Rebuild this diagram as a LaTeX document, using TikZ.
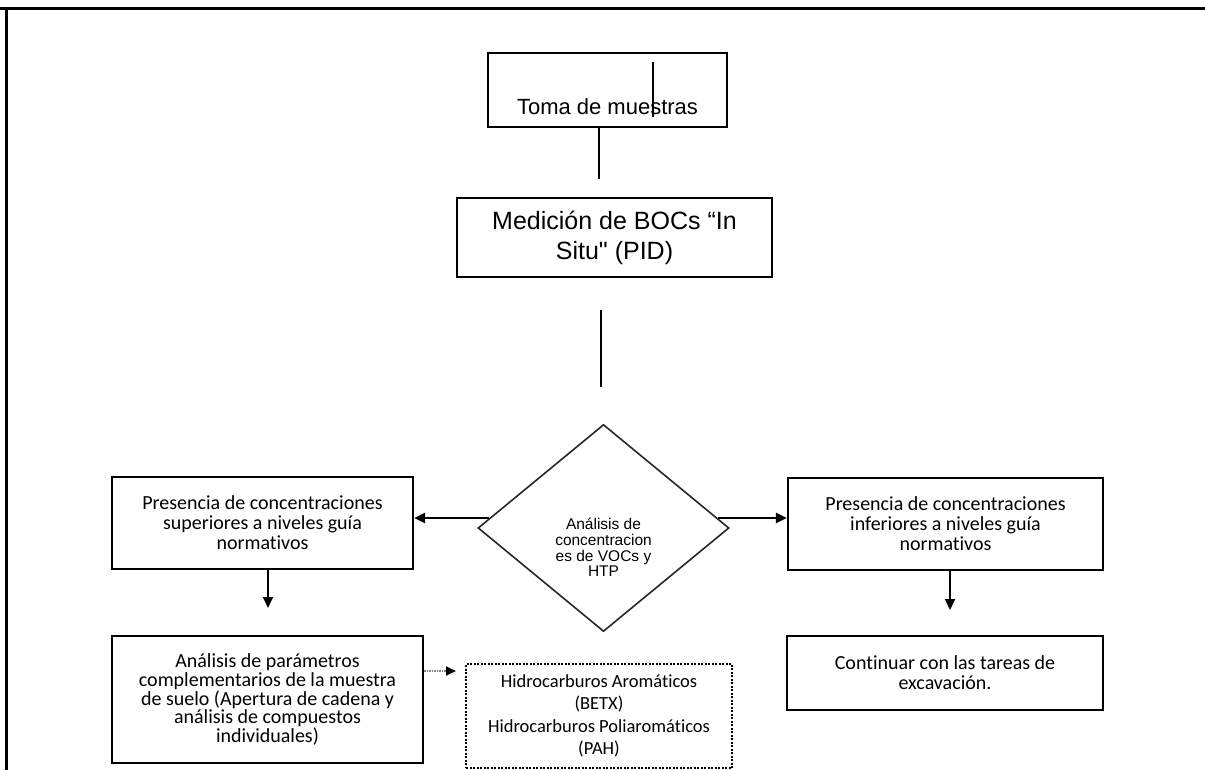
\documentclass[tikz,border=0pt]{standalone}
\usepackage{fontspec}
\setmainfont{Carlito}[Ligatures=NoCommon]
\newfontfamily\arialfont{Liberation Sans}
\usetikzlibrary{positioning,shapes,arrows.meta}

\begin{document}
\begin{tikzpicture}
    [x=1pt,y=-1pt,
     box/.style={draw, line width=2.4pt, rectangle, inner sep=0pt, align=center, font=\fontsize{20}{20}\selectfont},
     line/.style={line width=1.8pt},
     bigarrow/.style={line width=2.8pt, -{Triangle[length=11pt,width=10pt]}},
     downarr/.style={line width=1.8pt, -{Triangle[length=11pt,width=10pt]}},
     dotarr/.style={line width=1.8pt, gray, dash pattern=on 1.5pt off 1pt, -{Triangle[length=10pt,width=9pt,black]}}]
  \useasboundingbox (0,0) rectangle (1205,770);
  \draw[line width=3pt] (0,9) -- (1205,9);
  \draw[line width=3pt] (6,9) -- (6,770);

  \node[box, line width=2pt, minimum width=239pt, minimum height=74pt, font=\arialfont\fontsize{22}{26}\selectfont] (toma) at (607.5,90) {\raisebox{-25pt}[0pt][0pt]{Toma de muestras}};
  \draw[line] (653,62) -- (653,117);
  \node[box, line width=2pt, minimum width=315pt, minimum height=79pt, font=\arialfont\fontsize{25}{30}\selectfont] (med) at (614.5,237.5) {Medición de BOCs “In\\ Situ" (PID)};

  \node[draw, diamond, line width=1.6pt, draw=black!85, minimum width=251pt, minimum height=207pt, inner sep=0pt, font=\arialfont\fontsize{15.5}{14.5}\selectfont] (dec) at (603.5,528) {\raisebox{-25pt}[0pt][0pt]{\begin{tabular}{@{}c@{}}Análisis de\\ concentracion\\ es de VOCs y\\ HTP\end{tabular}}};

  \node[box, minimum width=301pt, minimum height=92pt] (sup) at (262.5,523) {Presencia de concentraciones\\ superiores a niveles guía\\ normativos};
  \node[box, minimum width=315pt, minimum height=92pt] (inf) at (945.5,524) {Presencia de concentraciones\\ inferiores a niveles guía\\ normativos};
  \node[box, minimum width=311pt, minimum height=127pt, font=\fontsize{20}{18.75}\selectfont] (par) at (267.5,699.5) {Análisis de parámetros\\ complementarios de la muestra\\ de suelo (Apertura de cadena y\\ análisis de compuestos\\ individuales)};
  \node[box, line width=1.8pt, dash pattern=on 2pt off 1.5pt, minimum width=266pt, minimum height=104pt, font=\fontsize{18.5}{22.5}\selectfont] (hid) at (599,716) {Hidrocarburos Aromáticos\\ (BETX)\\ Hidrocarburos Poliaromáticos\\ (PAH)};
  \node[box, minimum width=316pt, minimum height=74pt] (cont) at (945,673) {Continuar con las tareas de\\ excavación.};

  % free ends of the connectors
  \coordinate (c1) at (599,179);
  \coordinate (c2) at (601,310);
  \coordinate (c3) at (601,387);
  \coordinate (a1) at (268,608);
  \coordinate (a2) at (950,610);
  \coordinate (a3) at (456,671);

  \draw[line] (toma.south -| c1) -- (c1);
  \draw[line] (c2) -- (c3);
  \draw[bigarrow] (dec.175) -- (dec.175 -| sup.east);
  \draw[bigarrow] (dec.5) -- (dec.5 -| inf.west);
  \foreach \from/\to in {sup/a1, inf/a2}
    \draw[downarr] (\from.south -| \to) -- (\to);
  \draw[dotarr] (par.east |- a3) -- (a3);
\end{tikzpicture}
\end{document}
